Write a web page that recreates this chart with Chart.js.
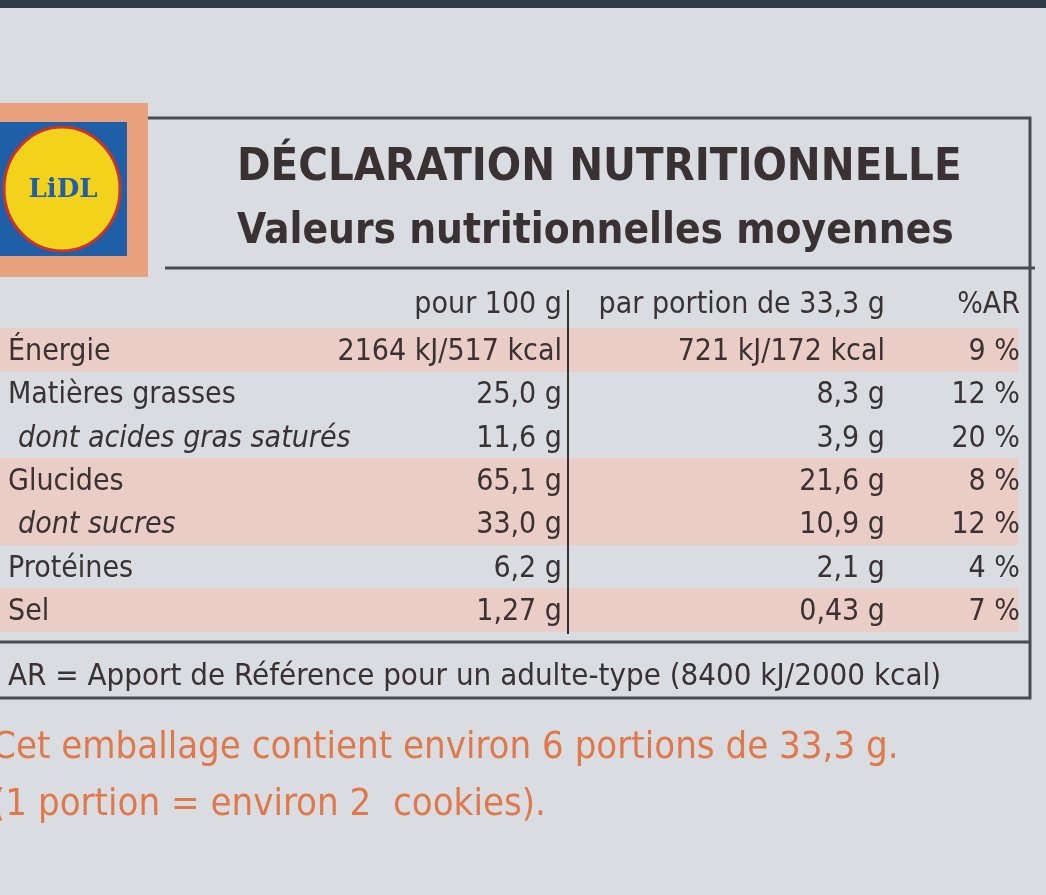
<!DOCTYPE html>
<html>
<head>
<meta charset="utf-8">
<script src="https://cdn.jsdelivr.net/npm/chart.js@4/dist/chart.umd.min.js"></script>
<style>
  html, body { margin: 0; padding: 0; background: #d9dde1; }
  #wrap { width: 1046px; height: 895px; position: relative; }
</style>
</head>
<body>
<div id="wrap"><canvas id="c"></canvas></div>
<script>
const rows = ["Énergie", "Matières grasses", "dont acides gras saturés", "Glucides", "dont sucres", "Protéines", "Sel"];
const italicRows = [false, false, true, false, true, false, false];
const per100 = ["2164 kJ/517 kcal", "25,0 g", "11,6 g", "65,1 g", "33,0 g", "6,2 g", "1,27 g"];
const perPortion = ["721 kJ/172 kcal", "8,3 g", "3,9 g", "21,6 g", "10,9 g", "2,1 g", "0,43 g"];
const percentAR = ["9 %", "12 %", "20 %", "8 %", "12 %", "4 %", "7 %"];
const shaded = [true, false, false, true, true, false, true];
const headers = ["pour 100 g", "par portion de 33,3 g", "%AR"];

const FONT = '"DejaVu Sans Condensed", "DejaVu Sans", sans-serif';
const INK = "#3a3232";

const labelPlugin = {
  id: "label",
  beforeDatasetsDraw(chart) {
    const c = chart.ctx;
    c.save();
    c.fillStyle = "#2e3a48"; c.fillRect(0, 0, 1046, 8);
    c.strokeStyle = "#4a4a50"; c.lineWidth = 3;
    c.beginPath();
    c.moveTo(145, 118); c.lineTo(1030, 118); c.lineTo(1030, 698); c.lineTo(0, 698);
    c.moveTo(165, 268); c.lineTo(1035, 268);
    c.moveTo(0, 642); c.lineTo(1030, 642);
    c.stroke();
    c.fillStyle = "#e8a27e"; c.fillRect(0, 103, 148, 174);
    c.fillStyle = "#1f5fa8"; c.fillRect(0, 122, 127, 134);
    c.fillStyle = "#f3d21c"; c.beginPath(); c.ellipse(62, 189, 58, 62, 0, 0, Math.PI * 2); c.fill();
    c.strokeStyle = "#c8342a"; c.lineWidth = 3; c.stroke();
    c.fillStyle = "#1f5fa8"; c.font = 'bold 26px "DejaVu Serif", serif';
    c.textAlign = "center"; c.textBaseline = "middle"; c.fillText("LiDL", 63, 190);
    c.restore();
  },
  afterDatasetsDraw(chart) {
    const c = chart.ctx, y = chart.scales.y;
    c.save();
    c.fillStyle = INK; c.textBaseline = "alphabetic";
    c.textAlign = "left";
    c.font = "bold 45px " + FONT; c.fillText("DÉCLARATION NUTRITIONNELLE", 237, 180);
    c.font = "bold 42px " + FONT; c.fillText("Valeurs nutritionnelles moyennes", 237, 243);
    c.font = "30px " + FONT;
    c.textAlign = "right";
    c.fillText(headers[0], 562, 313); c.fillText(headers[1], 885, 313); c.fillText(headers[2], 1020, 313);
    rows.forEach((r, i) => {
      const py = y.getPixelForValue(i) + 10;
      c.textAlign = "left";
      c.font = (italicRows[i] ? "italic " : "") + "30px " + FONT;
      c.fillText(r, italicRows[i] ? 18 : 8, py);
      c.font = "30px " + FONT;
      c.textAlign = "right";
      c.fillText(per100[i], 562, py);
      c.fillText(perPortion[i], 885, py);
      c.fillText(percentAR[i], 1020, py);
    });
    c.strokeStyle = INK; c.lineWidth = 2;
    c.beginPath(); c.moveTo(568, 290); c.lineTo(568, 634); c.stroke();
    c.textAlign = "left";
    c.font = "31px " + FONT;
    c.fillText("AR = Apport de Référence pour un adulte-type (8400 kJ/2000 kcal)", 8, 685);
    c.fillStyle = "#e0784a"; c.font = "38px " + FONT;
    c.fillText("Cet emballage contient environ 6 portions de 33,3 g.", -8, 758);
    c.fillText("(1 portion = environ 2  cookies).", -8, 815);
    c.restore();
  }
};

new Chart(document.getElementById("c"), {
  type: "bar",
  data: {
    labels: rows,
    datasets: [{
      data: shaded.map(s => s ? [0, 1018] : null),
      backgroundColor: "#e9cdc6",
      barPercentage: 1, categoryPercentage: 1
    }]
  },
  options: {
    indexAxis: "y",
    responsive: true, maintainAspectRatio: false, animation: false,
    layout: { padding: { top: 328, bottom: 263, left: 0, right: 0 } },
    plugins: { legend: { display: false }, tooltip: { enabled: false } },
    scales: {
      x: { type: "linear", min: 0, max: 1046, display: false },
      y: { type: "category", display: false, offset: true }
    }
  },
  plugins: [labelPlugin]
});
</script>
</body>
</html>
